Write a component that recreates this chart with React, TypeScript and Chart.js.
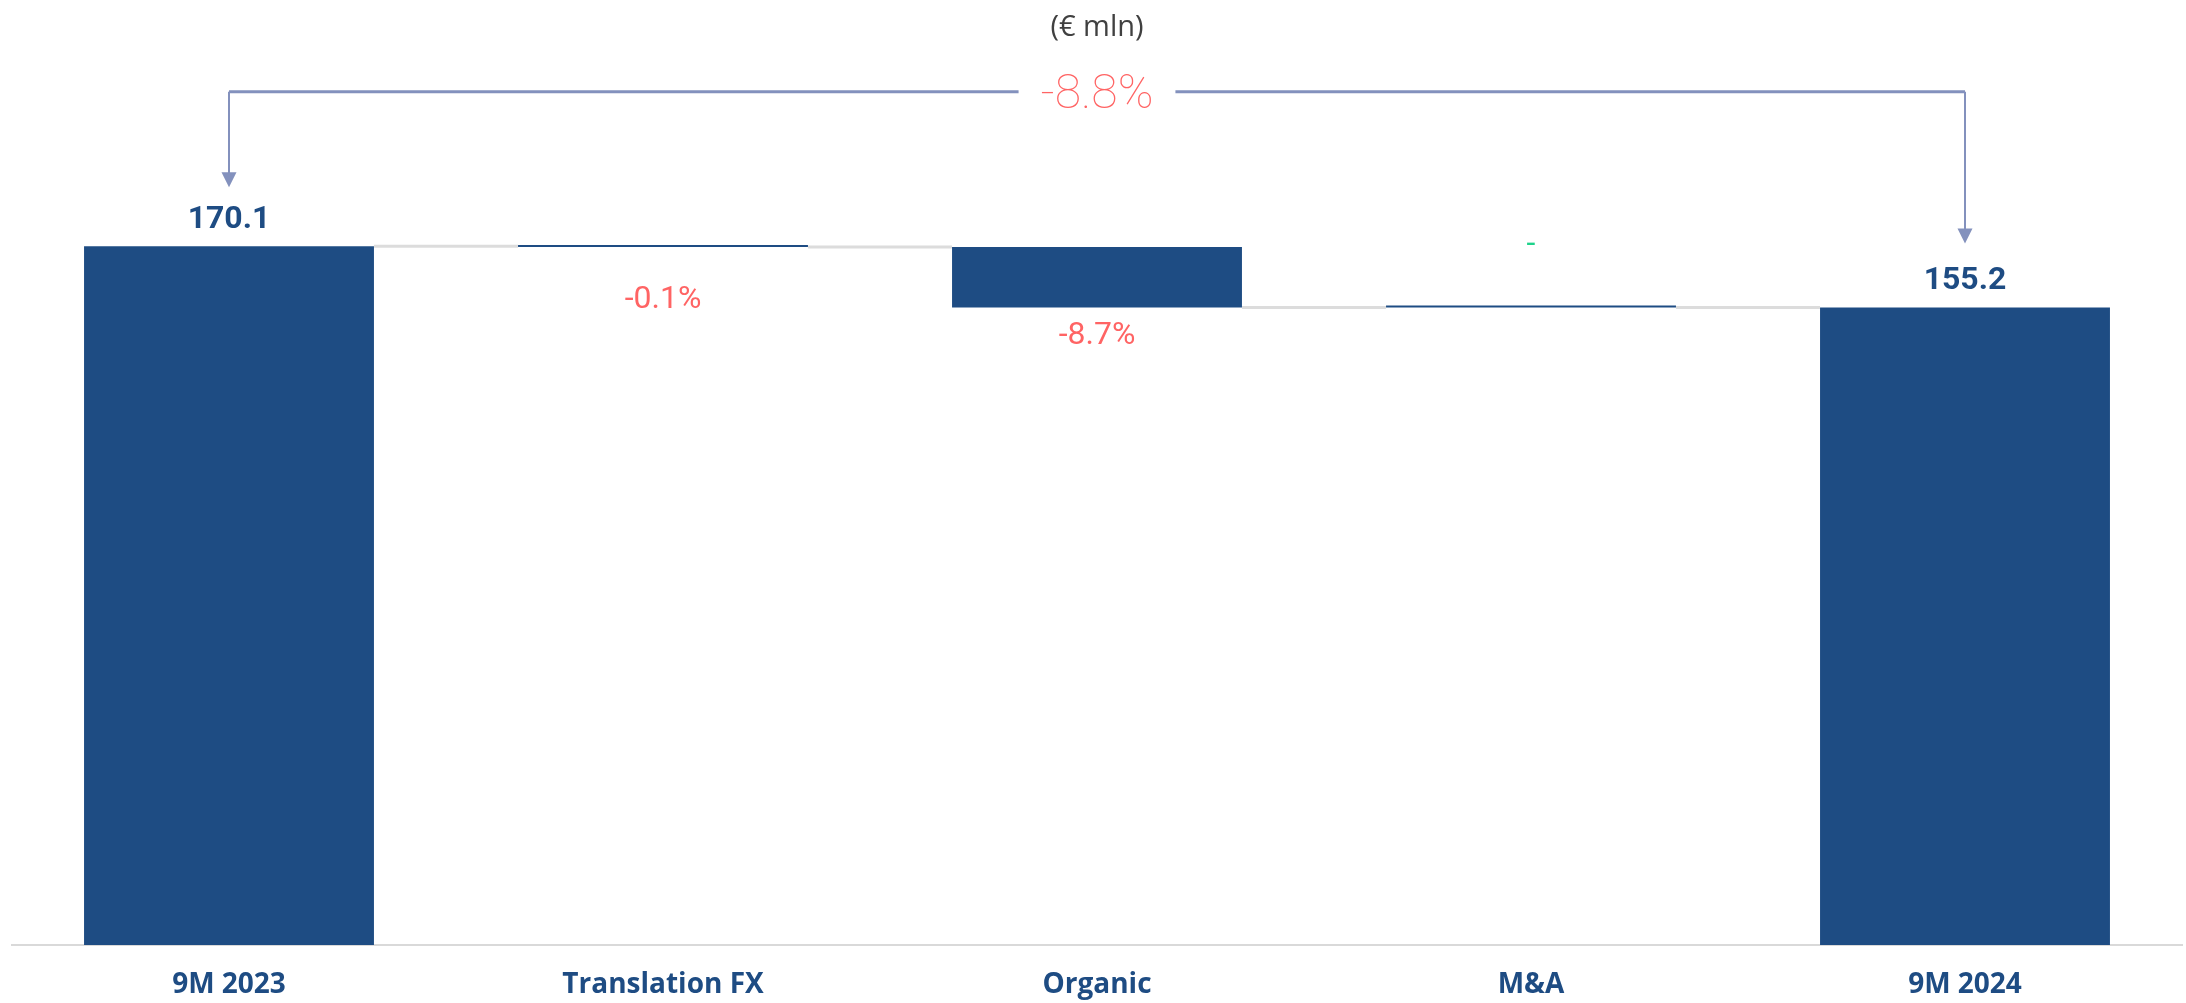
import React, { useEffect, useRef } from 'react';
import { Chart, registerables } from 'chart.js';

Chart.register(...registerables);

// ---- data ----
const categories = ['9M 2023', 'Translation FX', 'Organic', 'M&A', '9M 2024'];
const startTotal = 170.1;
const endTotal = 155.2;
const changeValues = [-0.17, -14.73, 0];
const changeLabels = ['-0.1%', '-8.7%', '-'];
const totalLabels = ['170.1', '155.2'];
const overallChangeLabel = '-8.8%';
const unitLabel = '(€ mln)';
const yMax = 215;

// ---- styles ----
const BAR_COLOR = '#1E4C83';
const CONNECTOR_COLOR = '#DCDCDC';
const AXIS_COLOR = '#D9D9D9';
const NEG_COLOR = '#FF6464';
const POS_COLOR = '#1ED38B';
const ARROW_COLOR = '#8391BD';

// floating ranges and running levels built from the data
const ranges: [number, number][] = [];
const levels: number[] = [];
(() => {
  let run = startTotal;
  ranges.push([0, startTotal]);
  levels.push(run);
  for (const c of changeValues) {
    const next = run + c;
    ranges.push([Math.min(run, next), Math.max(run, next)]);
    run = next;
    levels.push(run);
  }
  ranges.push([0, endTotal]);
  levels.push(endTotal);
})();

const decorPlugin = {
  id: 'waterfallDecor',
  beforeDatasetsDraw(chart: any) {
    const ctx = chart.ctx;
    const meta = chart.getDatasetMeta(0);
    const y = chart.scales.y;
    ctx.save();
    ctx.strokeStyle = CONNECTOR_COLOR;
    ctx.lineWidth = 3;
    for (let i = 0; i < meta.data.length - 1; i++) {
      const a = meta.data[i];
      const b = meta.data[i + 1];
      const py = y.getPixelForValue(levels[i]);
      ctx.beginPath();
      ctx.moveTo(a.x + a.width / 2, py);
      ctx.lineTo(b.x - b.width / 2, py);
      ctx.stroke();
    }
    ctx.restore();
  },
  afterDatasetsDraw(chart: any) {
    const ctx = chart.ctx;
    const meta = chart.getDatasetMeta(0);
    const els = meta.data;
    const n = els.length;
    ctx.save();
    ctx.textAlign = 'center';
    ctx.textBaseline = 'middle';

    // total labels
    const totalIdx = [0, n - 1];
    totalIdx.forEach((idx, k) => {
      const el = els[idx];
      const top = Math.min(el.y, el.base);
      ctx.font = 'bold 32px Roboto';
      ctx.fillStyle = BAR_COLOR;
      ctx.fillText(totalLabels[k], el.x, top - 26);
    });

    // change labels
    changeValues.forEach((v, k) => {
      const el = els[k + 1];
      const top = Math.min(el.y, el.base);
      const bottom = Math.max(el.y, el.base);
      ctx.font = '400 32px Roboto';
      if (v < 0) {
        ctx.fillStyle = NEG_COLOR;
        ctx.fillText(changeLabels[k], el.x, Math.max(bottom + 29, top + 55));
      } else {
        ctx.fillStyle = POS_COLOR;
        ctx.fillText(changeLabels[k], el.x, top - 60);
      }
    });

    // overall change bracket with arrows
    const first = els[0];
    const last = els[n - 1];
    const lineY = chart.chartArea.top + 30;
    const tipL = Math.min(first.y, first.base) - 59;
    const tipR = Math.min(last.y, last.base) - 64;
    const midX = (first.x + last.x) / 2;
    ctx.font = '100 48px Roboto';
    const tw = ctx.measureText(overallChangeLabel).width;
    const gap = tw / 2 + 22;

    ctx.strokeStyle = ARROW_COLOR;
    ctx.fillStyle = ARROW_COLOR;
    ctx.lineWidth = 3;
    ctx.beginPath();
    ctx.moveTo(first.x, lineY);
    ctx.lineTo(midX - gap, lineY);
    ctx.moveTo(midX + gap, lineY);
    ctx.lineTo(last.x, lineY);
    ctx.stroke();
    ctx.lineWidth = 2;
    ctx.beginPath();
    ctx.moveTo(first.x, lineY);
    ctx.lineTo(first.x, tipL - 14);
    ctx.moveTo(last.x, lineY);
    ctx.lineTo(last.x, tipR - 14);
    ctx.stroke();
    const head = (x: number, tip: number) => {
      ctx.beginPath();
      ctx.moveTo(x - 7.5, tip - 15);
      ctx.lineTo(x + 7.5, tip - 15);
      ctx.lineTo(x, tip);
      ctx.closePath();
      ctx.fill();
    };
    head(first.x, tipL);
    head(last.x, tipR);

    ctx.fillStyle = NEG_COLOR;
    ctx.fillText(overallChangeLabel, midX, lineY + 4);
    ctx.restore();
  },
};

export default function App() {
  const canvasRef = useRef<HTMLCanvasElement | null>(null);

  useEffect(() => {
    let chart: Chart | null = null;
    let cancelled = false;
    const fontsReady = (document as any).fonts
      ? Promise.all([
          (document as any).fonts.load('bold 32px Roboto'),
          (document as any).fonts.load('400 32px Roboto'),
          (document as any).fonts.load('100 48px Roboto'),
          (document as any).fonts.load('bold 28px "Open Sans"'),
          (document as any).fonts.load('400 29px "Open Sans"'),
        ]).catch(() => null)
      : Promise.resolve(null);
    fontsReady.then(() => {
      if (cancelled || !canvasRef.current) return;
      chart = new Chart(canvasRef.current, {
        type: 'bar',
        data: {
          labels: categories,
          datasets: [
            {
              data: ranges as any,
              backgroundColor: BAR_COLOR,
              borderWidth: 0,
              minBarLength: 2,
              categoryPercentage: 1,
              barPercentage: 0.668,
            },
          ],
        },
        options: {
          responsive: false,
          animation: false,
          layout: { padding: { left: 12, right: 4, top: 0, bottom: 1 } },
          plugins: {
            legend: { display: false },
            tooltip: { enabled: false },
            title: {
              display: true,
              text: unitLabel,
              color: '#404040',
              font: { family: 'Open Sans', size: 29, weight: '400' as any },
              padding: { top: 10, bottom: 17 },
            },
          },
          scales: {
            x: {
              grid: { display: false, drawTicks: false },
              border: { display: true, color: AXIS_COLOR, width: 2 },
              ticks: {
                color: BAR_COLOR,
                padding: 23,
                font: { family: 'Open Sans', size: 28, weight: 'bold' },
              },
              afterFit: (scale: any) => {
                scale.height = 57;
              },
            },
            y: {
              display: false,
              min: 0,
              max: yMax,
            },
          },
        },
        plugins: [decorPlugin],
      });
    });
    return () => {
      cancelled = true;
      if (chart) chart.destroy();
    };
  }, []);

  return (
    <canvas
      ref={canvasRef}
      width={2186}
      height={1003}
      style={{ position: 'fixed', left: 0, top: 0, background: '#ffffff' }}
    />
  );
}
